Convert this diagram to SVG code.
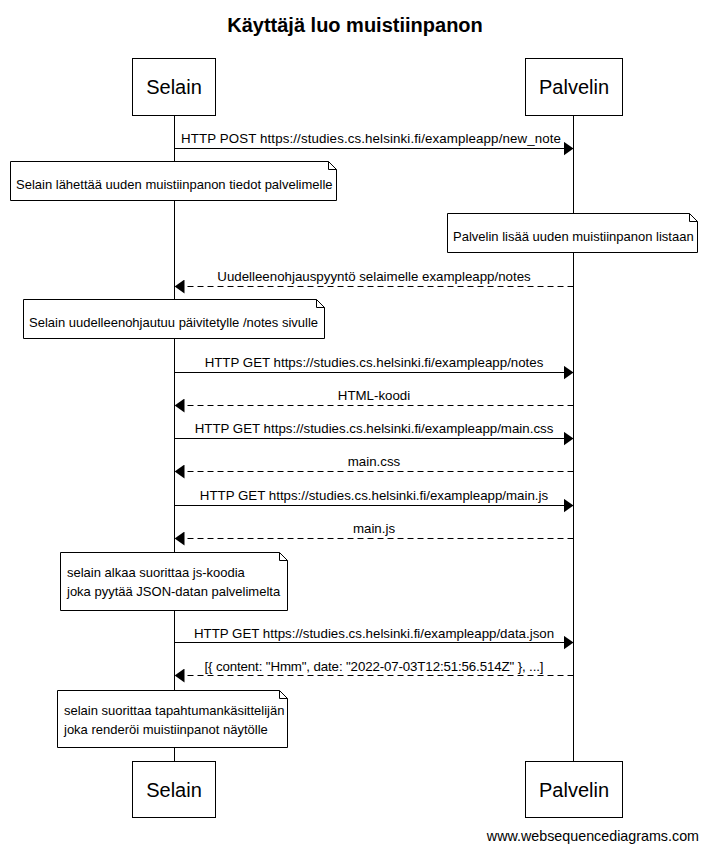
<svg xmlns="http://www.w3.org/2000/svg" width="708" height="852" viewBox="0 0 708 852">
  <style>
    .title { font: bold 20px "Liberation Sans", Arial, sans-serif; fill: #000; }
    .actor rect { fill: #fff; stroke: #000; stroke-width: 1; }
    .actor text { font: 20px "Liberation Sans", Arial, sans-serif; fill: #000; text-anchor: middle; }
    .life { stroke: #000; stroke-width: 1; }
    .msg { stroke: #000; stroke-width: 1; fill: none; }
    .ret { stroke-dasharray: 6 4; }
    .lbl { font: 13.3px "Liberation Sans", Arial, sans-serif; fill: #000; text-anchor: middle; }
    .note path { fill: #fff; stroke: #000; stroke-width: 1; }
    .note text { font: 13px "Liberation Sans", Arial, sans-serif; fill: #000; }
    .wm { font: 14.3px "Liberation Sans", Arial, sans-serif; fill: #000; text-anchor: end; }
  </style>
  <defs>
    <marker id="head" markerWidth="10" markerHeight="14" refX="10" refY="7" orient="auto" markerUnits="userSpaceOnUse">
      <path d="M0,0 L10,7 L0,14 Z" fill="#000"/>
    </marker>
  </defs>
  <rect width="708" height="852" fill="#fff"/>

  <text class="title" x="355" y="32" text-anchor="middle">Käyttäjä luo muistiinpanon</text>

  <!-- lifelines -->
  <g id="lifelines">
    <line class="life" x1="174.5" y1="116" x2="174.5" y2="761"/>
    <line class="life" x1="573.5" y1="116" x2="573.5" y2="761"/>
  </g>

  <!-- participants -->
  <g id="selain-top" class="actor">
    <rect x="132.5" y="58.5" width="83" height="57"/>
    <text x="174" y="94">Selain</text>
  </g>
  <g id="palvelin-top" class="actor">
    <rect x="525.5" y="58.5" width="97" height="57"/>
    <text x="574" y="94">Palvelin</text>
  </g>
  <g id="selain-bottom" class="actor">
    <rect x="132.5" y="761.5" width="83" height="56"/>
    <text x="174" y="797">Selain</text>
  </g>
  <g id="palvelin-bottom" class="actor">
    <rect x="525.5" y="761.5" width="97" height="56"/>
    <text x="574" y="797">Palvelin</text>
  </g>

  <!-- messages -->
  <g id="connectors">
    <line class="msg" x1="174.5" y1="148.5" x2="573.5" y2="148.5" marker-end="url(#head)"/>
    <text class="lbl" x="371" y="143" textLength="380" lengthAdjust="spacing">HTTP POST https://studies.cs.helsinki.fi/exampleapp/new_note</text>

    <line class="msg ret" x1="573.5" y1="286.5" x2="174.5" y2="286.5" marker-end="url(#head)"/>
    <text class="lbl" x="374" y="281">Uudelleenohjauspyyntö selaimelle exampleapp/notes</text>

    <line class="msg" x1="174.5" y1="372.5" x2="573.5" y2="372.5" marker-end="url(#head)"/>
    <text class="lbl" x="374" y="367">HTTP GET https://studies.cs.helsinki.fi/exampleapp/notes</text>

    <line class="msg ret" x1="573.5" y1="405.5" x2="174.5" y2="405.5" marker-end="url(#head)"/>
    <text class="lbl" x="374" y="400">HTML-koodi</text>

    <line class="msg" x1="174.5" y1="438.5" x2="573.5" y2="438.5" marker-end="url(#head)"/>
    <text class="lbl" x="374" y="433">HTTP GET https://studies.cs.helsinki.fi/exampleapp/main.css</text>

    <line class="msg ret" x1="573.5" y1="471.5" x2="174.5" y2="471.5" marker-end="url(#head)"/>
    <text class="lbl" x="374" y="466">main.css</text>

    <line class="msg" x1="174.5" y1="505.5" x2="573.5" y2="505.5" marker-end="url(#head)"/>
    <text class="lbl" x="374" y="500">HTTP GET https://studies.cs.helsinki.fi/exampleapp/main.js</text>

    <line class="msg ret" x1="573.5" y1="538.5" x2="174.5" y2="538.5" marker-end="url(#head)"/>
    <text class="lbl" x="374" y="533">main.js</text>

    <line class="msg" x1="174.5" y1="642.5" x2="573.5" y2="642.5" marker-end="url(#head)"/>
    <text class="lbl" x="374" y="638">HTTP GET https://studies.cs.helsinki.fi/exampleapp/data.json</text>

    <line class="msg ret" x1="573.5" y1="675.5" x2="174.5" y2="675.5" marker-end="url(#head)"/>
    <text class="lbl" x="374" y="671" textLength="339" lengthAdjust="spacing">[{ content: "Hmm", date: "2022-07-03T12:51:56.514Z" }, ...]</text>
  </g>

  <!-- notes -->
  <g id="note-lahettaa" class="note">
    <path d="M10.5,161.5 H328.5 L336.5,169.5 V200.5 H10.5 Z M328.5,161.5 V169.5 H336.5"/>
    <text x="16" y="189">Selain lähettää uuden muistiinpanon tiedot palvelimelle</text>
  </g>
  <g id="note-lisaa" class="note">
    <path d="M447.5,213.5 H689.5 L697.5,221.5 V252.5 H447.5 Z M689.5,213.5 V221.5 H697.5"/>
    <text x="453" y="241">Palvelin lisää uuden muistiinpanon listaan</text>
  </g>
  <g id="note-uudelleenohjautuu" class="note">
    <path d="M23.5,299.5 H316.5 L324.5,307.5 V338.5 H23.5 Z M316.5,299.5 V307.5 H324.5"/>
    <text x="29" y="327">Selain uudelleenohjautuu päivitetylle /notes sivulle</text>
  </g>
  <g id="note-js" class="note">
    <path d="M60.5,552.5 H279.5 L287.5,560.5 V610.5 H60.5 Z M279.5,552.5 V560.5 H287.5"/>
    <text x="67" y="577">selain alkaa suorittaa js-koodia</text>
    <text x="67" y="596">joka pyytää JSON-datan palvelimelta</text>
  </g>
  <g id="note-render" class="note">
    <path d="M57.5,690.5 H279.5 L287.5,698.5 V747.5 H57.5 Z M279.5,690.5 V698.5 H287.5"/>
    <text x="64" y="715">selain suorittaa tapahtumankäsittelijän</text>
    <text x="64" y="734">joka renderöi muistiinpanot näytölle</text>
  </g>

  <text class="wm" x="699" y="841">www.websequencediagrams.com</text>
</svg>
